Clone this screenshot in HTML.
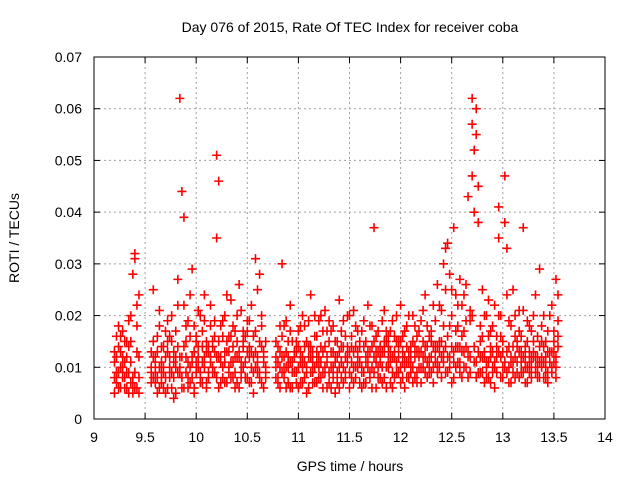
<!DOCTYPE html>
<html><head><meta charset="utf-8"><style>
html,body{margin:0;padding:0;background:#fff}
svg{display:block;font-family:"Liberation Sans",sans-serif}
</style></head><body>
<svg id="chart" width="640" height="480" xmlns="http://www.w3.org/2000/svg">
<rect width="640" height="480" fill="#fff"/>
<text x="350" y="32" font-size="14" text-anchor="middle">Day 076 of 2015, Rate Of TEC Index for receiver coba</text>
<text x="350" y="471" font-size="14" text-anchor="middle">GPS time / hours</text>
<text x="19" y="238" font-size="14" text-anchor="middle" transform="rotate(-90 19 238)">ROTI / TECUs</text>
<g id="grid"></g>
<g id="marks"></g>
<rect x="94" y="57" width="511" height="362" fill="none" stroke="#000" stroke-width="1"/>
<g id="ticks"></g>
</svg>
<script>
const xTicks = [9, 9.5, 10, 10.5, 11, 11.5, 12, 12.5, 13, 13.5, 14];
const xTickLabels = ["9","9.5","10","10.5","11","11.5","12","12.5","13","13.5","14"];
const yTicks = [0, 0.01, 0.02, 0.03, 0.04, 0.05, 0.06, 0.07];
const yTickLabels = ["0","0.01","0.02","0.03","0.04","0.05","0.06","0.07"];
const times = [9.20,9.22,9.24,9.26,9.28,9.30,9.32,9.34,9.36,9.38,9.40,9.42,9.44,
9.56,9.58,9.60,9.62,9.64,9.66,9.68,9.70,9.72,9.74,9.76,9.78,9.80,9.82,9.84,9.86,9.88,9.90,9.92,9.94,9.96,9.98,10.00,10.02,10.04,10.06,10.08,10.10,10.12,10.14,10.16,10.18,10.20,10.22,10.24,10.26,10.28,10.30,10.32,10.34,10.36,10.38,10.40,10.42,10.44,10.46,10.48,10.50,10.52,10.54,10.56,10.58,10.60,10.62,10.64,10.66,10.68,
10.78,10.80,10.82,10.84,10.86,10.88,10.90,10.92,10.94,10.96,10.98,11.00,11.02,11.04,11.06,11.08,11.10,11.12,11.14,11.16,11.18,11.20,11.22,11.24,11.26,11.28,11.30,11.32,11.34,11.36,11.38,11.40,11.42,11.44,11.46,11.48,11.50,11.52,11.54,11.56,11.58,11.60,11.62,11.64,11.66,11.68,11.70,11.72,11.74,11.76,11.78,11.80,11.82,11.84,11.86,11.88,11.90,11.92,11.94,11.96,11.98,12.00,12.02,12.04,12.06,12.08,12.10,12.12,12.14,12.16,12.18,12.20,12.22,12.24,12.26,12.28,12.30,12.32,12.34,12.36,12.38,12.40,12.42,12.44,12.46,12.48,12.50,12.52,12.54,12.56,12.58,12.60,12.62,12.64,12.66,12.68,12.70,12.72,12.74,12.76,12.78,12.80,12.82,12.84,12.86,12.88,12.90,12.92,12.94,12.96,12.98,13.00,13.02,13.04,13.06,13.08,13.10,13.12,13.14,13.16,13.18,13.20,13.22,13.24,13.26,13.28,13.30,13.32,13.34,13.36,13.38,13.40,13.42,13.44,13.46,13.48,13.50,13.52,13.54];
// ROTI values in milli-TECU/min for four satellite groups
const rotiSat1 = [8,12,18,6,10,15,9,19,7,28,31,6,12,
10,25,7,13,18,9,6,12,15,8,20,11,5,14,62,44,39,12,8,16,29,6,11,21,9,14,24,7,13,18,10,16,51,46,12,8,20,15,9,23,11,17,7,13,21,10,16,8,14,22,12,31,25,28,18,11,15,
12,8,18,30,10,6,15,22,9,13,7,17,11,20,14,5,12,24,9,16,11,19,8,13,21,6,15,10,18,12,9,23,14,7,16,11,20,8,13,18,10,15,6,19,12,22,9,14,37,11,17,8,13,21,10,16,7,19,12,15,9,22,13,6,18,11,14,20,8,16,12,19,10,24,14,9,17,22,11,26,15,21,30,33,34,18,25,37,14,22,27,16,24,19,43,21,62,52,60,45,18,25,13,20,11,17,9,22,14,41,16,10,47,33,19,12,25,8,15,21,11,37,14,19,9,17,12,24,10,29,15,20,8,17,13,22,11,27,16];
const rotiSat2 = [11,7,14,10,17,6,12,9,15,8,32,22,5,
7,12,9,16,6,11,14,8,19,10,6,13,17,9,12,8,22,15,6,10,12,18,9,14,7,11,19,13,8,22,15,9,35,12,7,16,11,24,13,8,18,6,12,26,9,15,11,19,7,13,9,17,11,8,14,6,10,
8,14,10,16,12,19,7,11,15,9,13,6,18,10,8,15,19,9,13,7,16,12,20,9,14,11,7,17,13,5,15,10,8,19,12,14,9,16,21,10,13,7,17,9,15,11,18,6,12,16,10,14,19,8,15,12,17,9,13,20,14,10,16,12,8,20,11,15,18,9,17,13,21,9,18,12,15,10,19,14,22,12,18,25,16,28,20,13,24,18,14,22,17,26,13,19,57,40,55,38,12,16,20,10,23,14,18,11,16,35,20,13,38,24,10,18,14,20,11,17,13,21,10,15,18,12,20,9,16,14,18,11,15,9,20,13,17,10,24];
const rotiSat3 = [5,16,9,13,8,11,6,14,20,5,9,13,24,
13,8,11,5,10,14,9,17,6,12,15,8,10,22,9,12,6,18,11,24,8,13,16,10,20,7,12,15,9,11,14,19,12,6,18,10,13,7,16,11,14,9,20,12,8,17,11,13,19,7,16,10,12,9,20,13,8,
15,11,6,9,18,13,10,17,6,12,9,14,7,12,18,10,6,14,11,20,7,10,14,17,9,12,19,6,10,15,12,6,17,10,9,20,13,11,7,14,17,11,9,14,7,10,13,18,9,6,13,11,7,15,17,10,13,6,16,11,12,15,8,17,11,13,9,7,12,13,10,7,15,12,11,16,9,14,13,11,10,15,13,9,12,10,14,8,17,11,9,13,10,14,8,12,47,14,11,9,15,9,12,8,16,7,13,10,12,20,8,15,11,9,14,7,11,16,9,13,16,9,12,7,13,10,15,12,8,11,12,14,10,13,11,9,15,12,19];
const rotiSat4 = [13,9,6,16,12,8,15,5,11,7,6,18,8,
9,15,12,8,21,7,10,5,13,16,9,4,12,27,10,6,14,9,19,7,11,5,15,12,8,17,10,6,14,12,9,13,8,15,11,19,7,13,10,16,8,12,15,6,11,14,8,17,12,10,5,13,9,15,7,12,9,
10,7,13,12,8,10,12,6,11,9,15,10,13,7,11,9,14,12,7,10,13,8,11,6,10,17,9,13,8,11,7,13,11,14,8,12,6,14,10,8,12,14,10,7,11,13,8,10,15,13,8,12,10,13,6,14,11,12,8,9,15,7,11,10,14,8,12,10,14,7,13,10,12,14,8,10,12,7,14,9,13,8,11,14,9,12,7,11,10,14,11,8,13,10,12,9,20,11,8,13,9,12,7,11,8,12,10,6,9,13,12,8,10,13,7,11,9,12,14,8,9,12,7,10,11,8,13,10,12,8,10,8,12,7,11,10,13,8,14];
const series = [rotiSat1, rotiSat2, rotiSat3, rotiSat4];

const NS = "http://www.w3.org/2000/svg";
const X0 = 94, X1 = 605, Y0 = 419, Y1 = 57;
function xScale(t){ return X0 + (t - 9) / (14 - 9) * (X1 - X0); }
function yScale(v){ return Y0 - v / 0.07 * (Y0 - Y1); }
const grid = document.getElementById('grid');
const ticks = document.getElementById('ticks');
const marks = document.getElementById('marks');
function mk(tag, attrs, parent){ const e = document.createElementNS(NS, tag); for (const k in attrs) e.setAttribute(k, attrs[k]); parent.appendChild(e); return e; }

xTicks.forEach((t, i) => {
  const x = xScale(t);
  if (i > 0 && i < xTicks.length - 1) {
    const g = mk('line', {x1:x, x2:x, y1:Y0, y2:Y1, stroke:'#a0a0a0', 'stroke-dasharray':'2,3', 'stroke-width':1}, grid);
    
    
  }
  const tm = mk('line', {x1:x, x2:x, y1:Y0, y2:Y0 - 6, stroke:'#000'}, ticks);
  
  
  const tm2 = mk('line', {x1:x, x2:x, y1:Y1, y2:Y1 + 6, stroke:'#000'}, ticks);
  
  
  const lb = mk('text', {x:x, y:442, 'font-size':14, 'text-anchor':'middle'}, ticks);
  lb.textContent = xTickLabels[i];
  
  
});
yTicks.forEach((v, i) => {
  const y = yScale(v);
  if (i > 0 && i < yTicks.length - 1) {
    const g = mk('line', {x1:X0, x2:X1, y1:y, y2:y, stroke:'#a0a0a0', 'stroke-dasharray':'2,3', 'stroke-width':1}, grid);
    
    
  }
  const tm = mk('line', {x1:X0, x2:X0 + 6, y1:y, y2:y, stroke:'#000'}, ticks);
  
  
  const tm2 = mk('line', {x1:X1, x2:X1 - 6, y1:y, y2:y, stroke:'#000'}, ticks);
  
  
  const lb = mk('text', {x:82, y:y + 5, 'font-size':14, 'text-anchor':'end'}, ticks);
  lb.textContent = yTickLabels[i];
  
  
});
let d = '';
series.forEach(s => {
  s.forEach((v, i) => {
    if (v == null) return;
    const x = xScale(times[i]), y = yScale(v / 1000);
    d += `M${x-4.5},${y}h9M${x},${y-4.5}v9`;
  });
});
const p = mk('path', {d:d, stroke:'#ff0000', 'stroke-width':1.6, fill:'none'}, marks);


</script>
</body></html>
